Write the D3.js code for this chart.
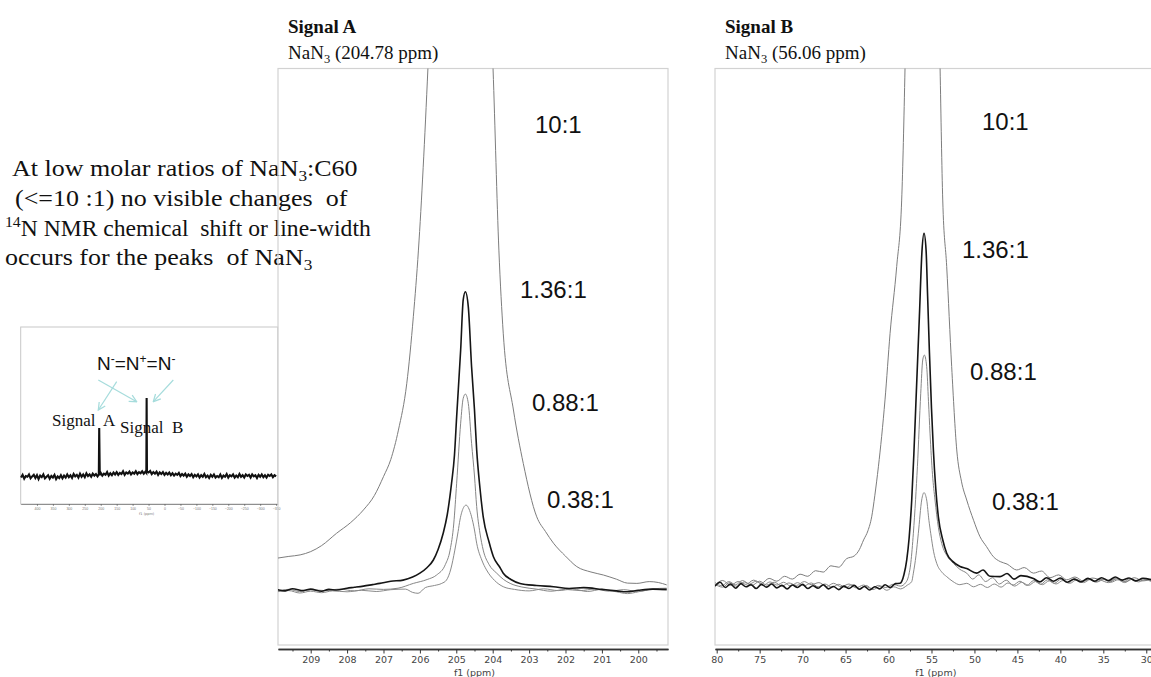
<!DOCTYPE html>
<html lang="en">
<head>
<meta charset="UTF-8">
<title>14N NMR of NaN3 with C60</title>
<script src="https://d3js.org/d3.v7.min.js"></script>
<style>
  body { margin: 0; background: #fff; }
  svg { display: block; }
  text { white-space: pre; }
</style>
</head>
<body>
<svg width="1151" height="677"></svg>
<script>
// ---- data (ppm, intensity) ----
const ratios = ["10:1", "1.36:1", "0.88:1", "0.38:1"];
const ticksA = [209, 208, 207, 206, 205, 204, 203, 202, 201, 200];
const ticksB = [80, 75, 70, 65, 60, 55, 50, 45, 40, 35, 30];
const ticksInset = [400, 350, 300, 250, 200, 150, 100, 50, 0, -50, -100, -150, -200, -250, -300, -350];

// Signal A, 204.78 ppm (intensity: 1.36:1 peak = 100)
const specA_10 = [[209.93,10.6],[209.6,11.2],[209.29,11.7],[209.0,12.8],[208.7,14.8],[208.29,18.9],[207.9,22.5],[207.55,26.7],[207.25,31.5],[207.0,37.8],[206.8,43.5],[206.59,53.3],[206.36,68.9],[206.18,91.1],[206.04,113.3],[205.78,173.7],[205.5,260],[204.88,420],[204.3,260],[203.99,173.7],[203.83,113.3],[203.71,85.6],[203.43,60],[203.16,42.2],[202.79,24.4],[202.55,19.5],[202.33,15.6],[202.0,11.3],[201.69,7.8],[201.3,6.0],[200.96,5.0],[200.6,3.6],[200.3,2.3],[200.04,2.2],[199.7,2.8],[199.45,2.5],[199.22,1.7]];
const specA_136 = [[209.93,0.2],[209.7,-0.3],[209.5,0.4],[209.2,-0.2],[209.0,0.3],[208.7,-0.4],[208.5,0.2],[208.29,0.0],[208.0,0.6],[207.8,0.9],[207.55,1.3],[207.3,1.8],[207.1,2.2],[206.8,2.9],[206.46,3.3],[206.2,4.3],[206.0,5.6],[205.8,7.5],[205.63,10],[205.5,13.5],[205.36,18.9],[205.25,25],[205.13,35.6],[205.05,45],[204.99,57.8],[204.88,80],[204.81,96.7],[204.75,99.4],[204.67,94.4],[204.58,74.4],[204.5,60],[204.44,46.7],[204.35,34],[204.26,24.4],[204.1,16],[203.98,11.1],[203.8,7.5],[203.71,5.6],[203.5,3.5],[203.25,2.2],[202.8,1.5],[202.33,1.1],[201.9,0.5],[201.5,0.8],[201.0,0.2],[200.6,-0.3],[200.32,-0.6],[200.0,-0.1],[199.6,0.3],[199.22,0.2]];
const specA_088 = [[209.93,-0.3],[209.6,0.2],[209.3,-0.5],[209.0,0.1],[208.6,-0.2],[208.2,0.3],[207.8,-0.3],[207.4,0.4],[207.0,0.2],[206.6,0.6],[206.18,2.2],[205.8,3.5],[205.54,5],[205.3,8.5],[205.17,13.3],[205.07,22],[204.99,35.6],[204.88,55.6],[204.81,63.9],[204.75,65.3],[204.67,62.2],[204.58,48.9],[204.5,38],[204.44,27.8],[204.35,19],[204.26,13.3],[204.1,8.5],[203.89,5.6],[203.7,3.5],[203.52,2.2],[203.2,1.0],[202.8,0.3],[202.4,-0.4],[202.0,0.2],[201.6,-0.2],[201.2,0.3],[200.8,-0.4],[200.4,0.1],[200.0,-0.5],[199.6,0.2],[199.22,0.0]];
const specA_038 = [[209.93,-0.6],[209.6,-0.2],[209.3,-1.0],[209.0,-0.4],[208.7,-0.9],[208.4,-0.3],[208.0,-0.6],[207.6,-0.1],[207.2,-0.5],[206.8,0.1],[206.4,0.3],[206.2,-0.8],[206.05,-1.1],[205.85,0.8],[205.6,1.5],[205.4,2.2],[205.27,3.3],[205.15,7],[205.04,13.3],[204.95,19.5],[204.9,23.3],[204.8,27.5],[204.73,28.3],[204.65,27],[204.58,24.4],[204.5,20],[204.44,15.6],[204.3,10],[204.17,6.7],[203.95,3.2],[203.71,1.1],[203.4,0.2],[203.0,-0.3],[202.6,0.4],[202.2,-0.2],[201.8,0.3],[201.4,-0.5],[201.0,0.2],[200.6,-0.6],[200.3,-1.2],[200.0,-0.6],[199.6,0.4],[199.22,0.6]];

// Signal B, 56.06 ppm (intensity: 1.36:1 peak = 100)
const specB_10 = [[80.2,-0.5],[79.3,0.8],[78.4,-0.6],[77.5,0.5],[76.6,-0.3],[75.7,0.9],[74.8,0.0],[73.9,1.4],[73.0,0.6],[72.1,2.0],[71.2,1.2],[70.3,2.6],[69.4,2.0],[68.5,3.6],[67.6,3.2],[66.7,5.0],[65.8,4.6],[64.9,7.0],[64.0,7.8],[63.4,9.6],[62.9,12.4],[62.4,15.0],[61.96,19],[61.6,25],[61.18,33.3],[60.8,42],[60.41,52.4],[59.82,71.4],[59.05,90.5],[58.47,109.5],[58.08,147.2],[57.5,230],[56.0,480],[54.6,230],[54.0,147.2],[53.69,109.5],[53.23,90.5],[52.65,61.9],[52.06,38.1],[51.5,29],[50.9,23.8],[50.1,18],[49.35,13.3],[48.6,10.5],[47.8,7.6],[47.0,6.2],[46.2,5.5],[45.08,3.8],[44.2,4.5],[43.14,2.9],[42.2,3.5],[41.2,1.6],[40.2,2.4],[39.26,1.0],[38.3,1.8],[37.3,0.6],[36.3,1.5],[35.38,1.0],[34.4,0.2],[33.4,1.3],[32.4,0.5],[31.4,1.6],[30.4,0.7],[29.4,1.2]];
const specB_136 = [[80.2,-0.8],[79.6,0.3],[79.0,-1.2],[78.4,-0.2],[77.8,-1.4],[77.2,-0.1],[76.6,-1.0],[76.0,-0.4],[75.4,-1.5],[74.8,-0.3],[74.2,-1.1],[73.6,-0.2],[73.0,-1.3],[72.4,-0.6],[71.8,-1.6],[71.2,-0.5],[70.6,-1.2],[70.0,-0.3],[69.4,-1.5],[68.8,-0.7],[68.2,-1.4],[67.6,-0.4],[67.0,-1.6],[66.4,-0.9],[65.8,-1.8],[65.2,-0.8],[64.6,-1.5],[64.0,-0.6],[63.4,-1.7],[62.8,-0.9],[62.2,-1.9],[61.6,-1.0],[61.0,-1.6],[60.4,-0.4],[59.8,-1.2],[59.2,-0.1],[58.66,0.0],[58.2,2.5],[57.88,6.7],[57.6,13],[57.3,23.8],[57.05,37],[56.8,52.4],[56.41,76.2],[56.1,95.2],[55.87,100],[55.63,95.2],[55.45,82],[55.25,66.7],[55.0,50],[54.78,38.1],[54.5,27],[54.2,19],[53.7,12.5],[53.23,8.6],[52.5,6.2],[51.68,4.8],[50.9,4.2],[49.74,2.9],[49.0,3.8],[48.2,2.0],[47.02,1.9],[46.2,2.8],[45.4,1.2],[44.6,2.2],[43.14,1.4],[42.4,0.4],[41.6,1.6],[40.8,0.6],[40.0,1.5],[39.2,0.3],[38.4,1.2],[37.6,0.4],[36.8,1.4],[36.0,0.6],[35.2,1.6],[34.4,0.8],[33.6,1.8],[32.8,0.9],[32.0,1.5],[31.2,0.7],[30.4,1.4],[29.4,1.0]];
const specB_088 = [[80.2,-0.3],[79.3,-1.1],[78.5,0.2],[77.6,-0.9],[76.8,0.4],[75.9,-0.6],[75.0,0.6],[74.2,-0.5],[73.3,0.3],[72.4,-0.8],[71.6,0.1],[70.7,-0.6],[69.8,0.5],[69.0,-0.4],[68.1,0.2],[67.2,-0.9],[66.4,0.0],[65.5,-1.0],[64.6,-0.2],[63.8,-1.3],[62.9,-0.5],[62.0,-1.5],[61.2,-0.6],[60.3,-1.2],[59.5,-0.3],[58.6,-0.8],[58.0,0.2],[57.69,1.9],[57.4,6],[57.11,14.3],[56.85,24],[56.64,33.3],[56.25,54.3],[56.02,63.8],[55.83,65.2],[55.56,61.9],[55.35,52],[55.17,42.9],[54.88,31],[54.59,23.8],[54.2,16],[53.81,11.4],[53.1,7.5],[52.45,5.7],[51.7,4.0],[50.9,2.9],[50.2,1.2],[49.5,2.4],[48.7,0.5],[47.9,1.6],[47.1,-0.2],[46.3,0.9],[45.5,-0.5],[44.7,0.6],[43.9,-0.6],[43.1,0.8],[42.3,-0.3],[41.5,1.0],[40.7,0.0],[39.9,1.2],[39.1,0.1],[38.3,1.3],[37.5,0.4],[36.7,1.4],[35.9,0.3],[35.1,1.2],[34.3,0.5],[33.5,1.5],[32.7,0.4],[31.9,1.3],[31.1,0.6],[30.3,1.4],[29.4,0.8]];
const specB_038 = [[80.2,0.2],[79.4,-0.7],[78.6,0.5],[77.8,-0.4],[77.0,0.8],[76.2,-0.2],[75.4,0.6],[74.6,-0.6],[73.8,0.4],[73.0,-0.5],[72.2,0.3],[71.4,-0.8],[70.6,0.2],[69.8,-0.7],[69.0,0.1],[68.2,-1.0],[67.4,-0.2],[66.6,-1.1],[65.8,-0.3],[65.0,-1.2],[64.2,-0.4],[63.4,-1.5],[62.6,-0.6],[61.8,-1.8],[61.0,-0.9],[60.2,-2.0],[59.4,-1.0],[58.6,-1.6],[57.8,-0.5],[57.3,0.5],[57.11,2.9],[56.8,8],[56.53,14.3],[56.14,23.8],[55.87,25.9],[55.56,23.8],[55.3,18],[55.09,14.3],[54.75,9],[54.39,5.7],[53.8,3.2],[53.23,1.9],[52.5,0.5],[51.7,-0.4],[50.9,0.0],[50.1,-1.0],[49.3,-0.3],[48.5,-1.2],[47.7,-0.2],[46.9,-1.1],[46.1,0.1],[45.3,-0.8],[44.5,0.3],[43.7,-0.6],[42.9,0.5],[42.1,-0.4],[41.3,0.7],[40.5,-0.2],[39.7,0.8],[38.9,0.0],[38.1,1.0],[37.3,0.2],[36.5,1.1],[35.7,0.4],[34.9,1.2],[34.1,0.3],[33.3,1.0],[32.5,0.2],[31.7,1.1],[30.9,0.4],[30.1,1.0],[29.4,0.5]];

// full 14N spectrum in the inset (Signal B peak = 100)
const specFull = [[450,-2],[445,1.5],[440,-3.5],[435,0],[430,-1],[425,2],[420,-3],[415,-0.5],[410,1.5],[405,-2.5],[400,1],[395,-4],[390,0.5],[385,-1.5],[380,2],[375,-3],[370,-1],[365,1],[360,-3.5],[355,0],[350,-2],[345,1.5],[340,-4],[335,-0.5],[330,-2.5],[325,1],[320,-3],[315,0.5],[310,-2],[305,2],[300,-1.5],[295,1],[290,-2.5],[285,2.5],[280,-0.5],[275,1.5],[270,-2],[265,3],[260,-1],[255,2],[250,-1.5],[245,3.5],[240,0],[235,2],[230,-1],[225,3],[220,0.5],[215,2.5],[210,-0.5],[206,2],[204.78,61.5],[203,1],[200,4],[195,0.5],[190,3],[185,1.5],[180,5],[175,0.5],[170,3.5],[165,1],[160,4.5],[155,2],[150,5],[145,1.5],[140,4],[135,2.5],[130,6],[125,1.5],[120,4.5],[115,3],[110,5.5],[105,2],[100,4.5],[95,3],[90,6],[85,2.5],[80,5],[75,3.5],[70,6],[65,3],[60,5.5],[57,4],[56.06,100],[55,6],[50,4.5],[45,6.5],[40,2.5],[35,5],[30,3],[25,5.5],[20,1.5],[15,4.5],[10,2.5],[5,5],[0,1.5],[-5,4],[-10,2],[-15,4.5],[-20,1],[-25,3.5],[-30,0.5],[-35,3],[-40,1.5],[-45,4],[-50,0],[-55,2.5],[-60,0.5],[-65,3],[-70,-1],[-75,2],[-80,0],[-85,2.5],[-90,-1.5],[-95,1.5],[-100,-0.5],[-105,2],[-110,-2],[-115,1],[-120,-1],[-125,2.5],[-130,-1.5],[-135,0.5],[-140,-2.5],[-145,1.5],[-150,-1],[-155,2],[-160,-2],[-165,0],[-170,-1.5],[-175,2],[-180,-2.5],[-185,0.5],[-190,-1],[-195,2.5],[-200,-2],[-205,1],[-210,-0.5],[-215,2],[-220,-2],[-225,0.5],[-230,-1.5],[-235,2.5],[-240,-1],[-245,1],[-250,-2],[-255,2],[-260,0],[-265,1.5],[-270,-2],[-275,2],[-280,-0.5],[-285,1],[-290,-2.5],[-295,1.5],[-300,-1],[-305,2],[-310,-1.5],[-315,1],[-320,-2],[-325,1.5],[-330,0],[-335,2],[-340,-1.5],[-345,1],[-350,-0.5]];

// ---- layout ----
const svg = d3.select("svg");
const defs = svg.append("defs");
const serif = "'Liberation Serif', 'Times New Roman', serif";
const sans = "'Liberation Sans', Arial, sans-serif";
const axisFont = "'DejaVu Sans', Verdana, sans-serif";

// text with sub/superscripts; each part carries its own vertical offset
function richText(parent, x, y, parts, size, small, stretch) {
    const t = parent.append("text")
        .attr("transform", `translate(${x},${y}) scale(${stretch},1)`)
        .attr("fill", "#111");
    let off = 0;
    parts.forEach(p => {
        const plain = typeof p === "string";
        const target = plain ? 0 : (p.sub ? size * 0.22 : -size * 0.38);
        t.append("tspan").attr("dy", target - off)
            .attr("font-size", plain ? size : small)
            .text(plain ? p : (p.sub || p.sup));
        off = target;
    });
    return t;
}

// explanatory text, left (last number: horizontal stretch of the line)
const noteLines = [
    [12, 176, ["At low molar ratios of NaN", {sub: "3"}, ":C60"], 1.155],
    [15, 205.5, ["(<=10 :1) no visible changes  of"], 1.155],
    [5, 236, [{sup: "14"}, "N NMR chemical  shift or line-width"], 1.05],
    [5, 265, ["occurs for the peaks  of NaN", {sub: "3"}], 1.155]
];
noteLines.forEach(([x, y, parts, k]) =>
    richText(svg, x, y, parts, 22.5, 15, k).attr("font-family", serif));

// ---- inset: full spectrum ----
const inset = { x0: 20.7, x1: 277.7, top: 327, axisY: 504 };
const xI = d3.scaleLinear().domain([451, -355]).range([inset.x0, inset.x1]);
const yI = d3.scaleLinear().domain([0, 100]).range([476, 398]);
const gi = svg.append("g");
gi.append("rect").attr("x", inset.x0).attr("y", inset.top)
    .attr("width", inset.x1 - inset.x0).attr("height", inset.axisY - inset.top)
    .attr("fill", "#fff").attr("stroke", "#c8c8c8");
gi.append("path").datum(specFull)
    .attr("d", d3.line().x(d => xI(d[0])).y(d => yI(d[1])))
    .attr("fill", "none").attr("stroke", "#111").attr("stroke-width", 2.1);
gi.append("g").attr("transform", `translate(0,${inset.axisY})`)
    .call(d3.axisBottom(xI).tickValues(ticksInset).tickSize(2).tickPadding(2).tickSizeOuter(0))
    .call(g => g.selectAll("text").attr("font-size", 3.5).attr("fill", "#777"))
    .call(g => g.selectAll("line, path").attr("stroke", "#555").attr("stroke-width", 0.6));
gi.append("text").attr("x", xI(56)).attr("y", inset.axisY + 11).attr("text-anchor", "middle")
    .attr("font-size", 3.5).attr("fill", "#777").attr("font-family", axisFont).text("f1 (ppm)");

defs.append("marker").attr("id", "arr").attr("viewBox", "0 0 10 10").attr("refX", 9).attr("refY", 5)
    .attr("markerWidth", 9).attr("markerHeight", 9).attr("orient", "auto-start-reverse")
    .attr("markerUnits", "userSpaceOnUse")
    .append("path").attr("d", "M1,1 L9,5 L1,9").attr("fill", "none").attr("stroke", "#a6dcdc").attr("stroke-width", 1.4);
const arrows = [[116.7, 381.7, 98.3, 410], [98.3, 380, 136.7, 401.7], [173.3, 380, 153.3, 401.7]];
gi.selectAll("line.arrow").data(arrows).join("line").attr("class", "arrow")
    .attr("x1", d => d[0]).attr("y1", d => d[1]).attr("x2", d => d[2]).attr("y2", d => d[3])
    .attr("stroke", "#a6dcdc").attr("stroke-width", 1.2).attr("marker-end", "url(#arr)");
richText(gi, 97, 370, ["N", {sup: "-"}, "=N", {sup: "+"}, "=N", {sup: "-"}], 19, 12, 1)
    .attr("font-family", sans);
gi.append("text").attr("x", 52).attr("y", 426).attr("font-family", serif).attr("font-size", 17)
    .attr("fill", "#111").text("Signal  A");
gi.append("text").attr("x", 120).attr("y", 433).attr("font-family", serif).attr("font-size", 17)
    .attr("fill", "#111").text("Signal  B");

// ---- the two zoomed panels ----
const panels = [
    {
        id: "A", x0: 278, x1: 668, top: 68.5, bottom: 645, axisY: 649,
        x: d3.scaleLinear().domain([209.898, 199.184]).range([278, 668]),
        y: d3.scaleLinear().domain([0, 100]).range([590, 290]),
        ticks: ticksA, step: 1, unitLabelAt: 204.5,
        series: [specA_10, specA_136, specA_088, specA_038],
        title: "Signal A", shift: "204.78",
        labels: [[535, 133], [520, 298], [532, 411], [547, 508]]
    },
    {
        id: "B", x0: 715, x1: 1160, top: 68.5, bottom: 645, axisY: 649,
        x: d3.scaleLinear().domain([80.198, 29.45]).range([715, 1151]),
        y: d3.scaleLinear().domain([0, 100]).range([583.3, 233.3]),
        ticks: ticksB, step: 5, unitLabelAt: 54.5,
        series: [specB_10, specB_136, specB_088, specB_038],
        title: "Signal B", shift: "56.06",
        labels: [[982, 130], [962, 258], [970, 380], [992, 510]]
    }
];
const seriesStyle = [
    { color: "#7d7d7d", width: 1 },
    { color: "#151515", width: 1.6 },
    { color: "#868686", width: 1 },
    { color: "#8a8a8a", width: 1 }
];
const drawOrder = [0, 2, 3, 1];

panels.forEach(p => {
    const g = svg.append("g");
    defs.append("clipPath").attr("id", "clip" + p.id).append("rect")
        .attr("x", p.x0).attr("y", p.top).attr("width", p.x1 - p.x0).attr("height", p.bottom - p.top);

    g.append("rect").attr("x", p.x0).attr("y", p.top)
        .attr("width", p.x1 - p.x0).attr("height", p.bottom - p.top)
        .attr("fill", "none").attr("stroke", "#d2d2d2").attr("stroke-width", 1.2);

    const line = d3.line().x(d => p.x(d[0])).y(d => p.y(d[1])).curve(d3.curveMonotoneX);
    drawOrder.forEach(i => {
        g.append("path").datum(p.series[i].slice().sort((a, b) => b[0] - a[0]))
            .attr("clip-path", `url(#clip${p.id})`)
            .attr("d", line)
            .attr("fill", "none")
            .attr("stroke", seriesStyle[i].color)
            .attr("stroke-width", seriesStyle[i].width)
            .attr("stroke-linejoin", "round");
    });

    // axis: major and minor ticks
    const dom = p.x.domain();
    const minor = p.ticks.map(t => t - p.step / 2).concat([p.ticks[0] + p.step / 2])
        .filter(t => t <= Math.max(...dom) && t >= Math.min(...dom));
    const ax = g.append("g").attr("transform", `translate(0,${p.axisY})`);
    ax.call(d3.axisBottom(p.x).tickValues(minor).tickSize(2.5).tickFormat("").tickSizeOuter(0));
    ax.append("g").call(d3.axisBottom(p.x).tickValues(p.ticks).tickSize(4.5).tickPadding(3).tickSizeOuter(0));
    ax.selectAll("path.domain").attr("stroke", "#333").attr("stroke-width", 1.3);
    ax.selectAll("line").attr("stroke", "#333");
    ax.selectAll("text").attr("font-family", axisFont).attr("font-size", 9.5).attr("fill", "#444");
    g.append("text").attr("x", p.x(p.unitLabelAt))
        .attr("y", p.axisY + 27).attr("text-anchor", "middle")
        .attr("font-family", axisFont).attr("font-size", 9.5).attr("fill", "#444").text("f1 (ppm)");

    // ratio labels
    g.selectAll("text.ratio").data(ratios).join("text").attr("class", "ratio")
        .attr("x", (d, i) => p.labels[i][0]).attr("y", (d, i) => p.labels[i][1])
        .attr("font-family", sans).attr("font-size", 24).attr("fill", "#111").text(d => d);

    // titles
    g.append("text").attr("x", p.x0 + 10).attr("y", 33).attr("font-family", serif)
        .attr("font-weight", "bold").attr("font-size", 19).attr("fill", "#111").text(p.title);
    richText(g, p.x0 + 10, 59, ["NaN", {sub: "3"}, ` (${p.shift} ppm)`], 19, 12.5, 1)
        .attr("font-family", serif);
});
</script>
</body>
</html>
